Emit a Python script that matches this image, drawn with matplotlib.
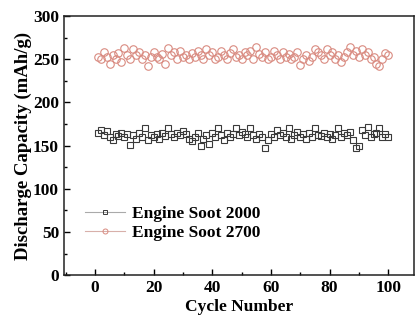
import matplotlib
matplotlib.use('Agg')
import matplotlib.pyplot as plt
import numpy as np
from matplotlib.lines import Line2D
from matplotlib.ticker import MultipleLocator

plt.rcParams['font.family'] = ['Liberation Serif', 'DejaVu Serif']
plt.rcParams['font.weight'] = 'bold'

# cycle numbers and discharge capacities (mAh/g)
cycles = np.arange(1, 101)
soot_2000 = [165, 168, 162, 167, 160, 157, 163, 161, 165, 160,
             163, 151, 162, 158, 165, 160, 170, 157, 162, 160,
             163, 158, 165, 161, 170, 163, 160, 165, 162, 167,
             163, 158, 155, 160, 165, 149, 158, 162, 152, 165,
             160, 170, 162, 156, 165, 160, 163, 170, 162, 166,
             163, 160, 170, 162, 158, 163, 160, 147, 157, 163,
             160, 168, 162, 165, 160, 170, 158, 162, 166, 160,
             163, 158, 165, 160, 170, 162, 161, 165, 160, 163,
             158, 162, 170, 160, 165, 162, 166, 157, 147, 150,
             168, 162, 171, 160, 163, 165, 170, 160, 163, 160]
soot_2700 = [253, 250, 258, 252, 245, 255, 250, 257, 247, 263,
             255, 250, 262, 255, 258, 250, 255, 242, 253, 258,
             252, 250, 256, 245, 263, 255, 258, 250, 260, 253,
             255, 250, 257, 252, 260, 255, 250, 262, 255, 258,
             250, 253, 260, 255, 250, 257, 262, 253, 255, 250,
             258, 255, 260, 250, 264, 256, 252, 258, 250, 253,
             260, 255, 250, 258, 252, 256, 250, 253, 258, 243,
             250, 255, 248, 253, 262, 258, 255, 250, 262, 255,
             258, 250, 255, 247, 252, 258, 264, 255, 260, 252,
             262, 255, 258, 250, 253, 245, 242, 250, 257, 255]
labels = ['Engine Soot 2000', 'Engine Soot 2700']

c2000 = '#3a3a3a'
c2700 = '#d98a80'

fig = plt.figure(figsize=(4.15, 3.21), dpi=100)
ax = fig.add_axes([0.154, 0.143, 0.8436, 0.807])

ax.plot(cycles, soot_2000, ls='none', marker='s', ms=4.8, mfc='none',
        mec=c2000, mew=0.8)
ax.plot(cycles, soot_2700, ls='none', marker='o', ms=5.4, mfc='none',
        mec=c2700, mew=0.8)

ax.set_xlim(-10.6, 108.8)
ax.set_ylim(0, 300)
ax.xaxis.set_major_locator(MultipleLocator(20))
ax.xaxis.set_minor_locator(MultipleLocator(10))
ax.yaxis.set_major_locator(MultipleLocator(50))
ax.yaxis.set_minor_locator(MultipleLocator(25))
ax.tick_params(which='both', direction='in', top=False, right=False,
               labelsize=12.5, width=1.0)
ax.tick_params(which='major', length=4)
ax.tick_params(which='minor', length=2)
for s in ax.spines.values():
    s.set_linewidth(1.1)
    s.set_color('#222222')

ax.set_xlabel('Cycle Number', fontsize=12.5, fontweight='bold', labelpad=2)
ax.set_ylabel('Discharge Capacity (mAh/g)', fontsize=13.5, fontweight='bold',
              labelpad=1)

handles = [Line2D([], [], color='#aaaaaa', lw=0.8, marker='s', ms=3.2,
                  mfc='none', mec=c2000, mew=0.7),
           Line2D([], [], color='#d8b0aa', lw=0.8, marker='o', ms=3.6,
                  mfc='none', mec=c2700, mew=0.7)]
ax.legend(handles, labels, loc='lower left', bbox_to_anchor=(0.015, 0.07),
          frameon=False, fontsize=12.5, handlelength=2.3, handletextpad=0.4,
          labelspacing=0.2)

fig.savefig('out.png', dpi=100)
